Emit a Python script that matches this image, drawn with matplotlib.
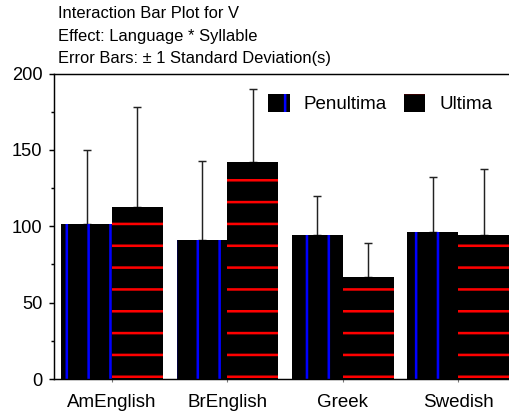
import matplotlib
matplotlib.use("Agg")
import matplotlib.pyplot as plt
import matplotlib.hatch as mhatch
from matplotlib.path import Path
import numpy as np

languages = ["AmEnglish", "BrEnglish", "Greek", "Swedish"]
penultima_mean = [101.3, 90.8, 94.1, 96.1]
penultima_sd = [48.6, 51.9, 25.5, 36.1]
ultima_mean = [112.6, 141.8, 66.7, 94.1]
ultima_sd = [65.4, 47.9, 22.6, 43.2]
title_lines = ["Interaction Bar Plot for V",
               "Effect: Language * Syllable",
               "Error Bars: \u00b1 1 Standard Deviation(s)"]

dpi = 131

# shift the hatch lines so they line up like the original (page-anchored)
def _vertical_lines(self, vertices, codes):
    steps = np.linspace(0.0, 1.0, self.num_lines, False) + 1.3 / dpi
    vertices[0::2, 0] = steps
    vertices[0::2, 1] = 0.0
    vertices[1::2, 0] = steps
    vertices[1::2, 1] = 1.0
    codes[0::2] = Path.MOVETO
    codes[1::2] = Path.LINETO

def _horizontal_lines(self, vertices, codes):
    steps = 1.0 - (np.linspace(0.0, 1.0, self.num_lines, False) + 5.6 / dpi)
    vertices[0::2, 0] = 0.0
    vertices[0::2, 1] = steps
    vertices[1::2, 0] = 1.0
    vertices[1::2, 1] = steps
    codes[0::2] = Path.MOVETO
    codes[1::2] = Path.LINETO

mhatch.VerticalHatch.set_vertices_and_codes = _vertical_lines
mhatch.HorizontalHatch.set_vertices_and_codes = _horizontal_lines

plt.rcParams['font.family'] = ['Liberation Sans', 'DejaVu Sans']
plt.rcParams['hatch.linewidth'] = 1.4

fig = plt.figure(figsize=(509 / dpi, 416 / dpi), dpi=dpi)
ax = fig.add_axes([54.3 / 509, 1 - 379 / 416, 1 - 54.3 / 509, (379 - 73.5) / 416])

x = np.arange(len(languages))
w = 0.44

ax.bar(x - w / 2, penultima_mean, w, color='black', edgecolor='blue',
       linewidth=0, hatch='|', label='Penultima', zorder=2)
ax.bar(x + w / 2, ultima_mean, w, color='black', edgecolor='red',
       linewidth=0, hatch='-', label='Ultima', zorder=2)

zeros = np.zeros(len(languages))
ax.errorbar(x - w / 2, penultima_mean, yerr=[zeros, penultima_sd], fmt='none',
            ecolor='#222222', elinewidth=0.8, capsize=2, capthick=0.8, zorder=1)
ax.errorbar(x + w / 2, ultima_mean, yerr=[zeros, ultima_sd], fmt='none',
            ecolor='#222222', elinewidth=0.8, capsize=2, capthick=0.8, zorder=1)

ax.set_xlim(-0.5, 3.44)
ax.set_ylim(0, 200)
ax.set_yticks([0, 50, 100, 150, 200])
ax.set_yticks([25, 75, 125, 175], minor=True)
ax.set_xticks(x)
ax.set_xticklabels(languages, fontsize=10.3)
ax.tick_params(axis='y', labelsize=10, length=2.8, width=0.8, pad=3.8)
ax.tick_params(axis='y', which='minor', length=1.5, width=0.8)
ax.tick_params(axis='x', length=1.6, width=0.6, color='#777777', pad=6.5)
ax.spines['right'].set_visible(False)
for s in ['left', 'bottom', 'top']:
    ax.spines[s].set_linewidth(0.8)

ax.legend(loc='upper left', bbox_to_anchor=(268 / 509, 1 - 94 / 416),
          bbox_transform=fig.transFigure, ncol=2, frameon=False, fontsize=10.3,
          borderpad=0, borderaxespad=0, handlelength=1.15, handleheight=1.1,
          handletextpad=0.75, columnspacing=0.9)

for i, line in enumerate(title_lines):
    fig.text(58 / 509, 1 - (18.5 + 22 * i) / 416, line, fontsize=9.1, va='baseline')

fig.savefig("out.png", dpi=dpi)
